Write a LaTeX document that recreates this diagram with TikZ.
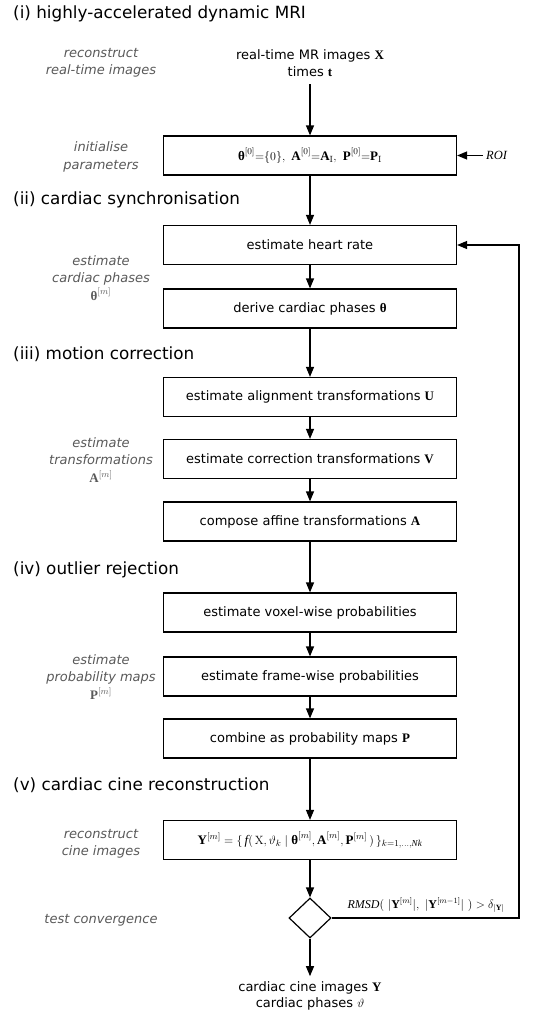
\documentclass[tikz,border=0pt]{standalone}
\usepackage{amsmath}
\usepackage[no-math]{fontspec}
\setmainfont{DejaVu Sans}
\setmathrm{Liberation Serif}
\newfontfamily\tmsfont{Liberation Serif}
\newcommand{\mybf}[1]{\text{\tmsfont\bfseries\upshape #1}}
\newcommand{\myit}[1]{\text{\tmsfont\mdseries\itshape #1}}
\usetikzlibrary{arrows.meta,shapes.geometric}
\begin{document}
\begin{tikzpicture}[x=1pt,y=-1pt,
  box/.style={draw,line width=1.2pt,minimum width=293pt,minimum height=39pt,inner sep=0pt,font=\fontsize{13}{15}\selectfont},
  side/.style={align=center,font=\fontsize{13}{17.5}\selectfont\itshape,text=black!65},
  head/.style={anchor=west,inner sep=0pt,font=\fontsize{16.8}{19}\selectfont},
  arr/.style={line width=1.2pt,-{Triangle[length=10pt,width=8pt]}},
  conn/.style={line width=1.2pt}
]
\useasboundingbox (0,0) rectangle (554,1010);
% headings
\node[head] (h1) at (13,14) {(i) highly-accelerated dynamic MRI};
\node[head] (h2) at (13,200) {(ii) cardiac synchronisation};
\node[head] (h3) at (13,354) {(iii) motion correction};
\node[head] (h4) at (13,570) {(iv) outlier rejection};
\node[head] (h5) at (13,785) {(v) cardiac cine reconstruction};
% side labels
\node[side] (s1) at (101,63) {reconstruct\\real-time images};
\node[side] (s2) at (101,157) {initialise\\parameters};
\node[side] (s3) at (101,278) {estimate\\cardiac phases\\$\mybf{θ}^{[m]}$};
\node[side] (s4) at (101,460) {estimate\\transformations\\$\mybf{A}^{[m]}$};
\node[side] (s5) at (101,677) {estimate\\probability maps\\$\mybf{P}^{[m]}$};
\node[side] (s6) at (101,844) {reconstruct\\cine images};
\node[side] (s7) at (101,920) {test convergence};
% main flow
\node[align=center,font=\fontsize{13}{17}\selectfont] (in) at (310,63) {real-time MR images $\mybf{X}$\\times $\mybf{t}$};
\node[box] (init) at (310,155.5) {$\mybf{θ}^{[0]}{=}\{0\},\ \mybf{A}^{[0]}{=}\mybf{A}_{\mathrm{I}},\ \mybf{P}^{[0]}{=}\mybf{P}_{\mathrm{I}}$};
\node[box] (hr) at (310,245) {estimate heart rate};
\node[box] (dp) at (310,308.5) {derive cardiac phases $\mybf{θ}$};
\node[box] (al) at (310,397) {estimate alignment transformations $\mybf{U}$};
\node[box] (co) at (310,459) {estimate correction transformations $\mybf{V}$};
\node[box] (ca) at (310,521.5) {compose affine transformations $\mybf{A}$};
\node[box] (vx) at (310,612.5) {estimate voxel-wise probabilities};
\node[box] (fr) at (310,676.5) {estimate frame-wise probabilities};
\node[box] (cb) at (310,738.5) {combine as probability maps $\mybf{P}$};
\node[box] (yb) at (310,840) {$\mybf{Y}^{[m]} = \{\, \myit{f}(\,\mathrm{X}, \vartheta_k \mid \mybf{θ}^{[m]}, \mybf{A}^{[m]}, \mybf{P}^{[m]}\,)\,\}_{k=1,\dots,\myit{Nk}}$};
\node[diamond,draw,line width=1.2pt,minimum width=42pt,minimum height=40pt,inner sep=0pt] (dia) at (310,918) {};
\node[align=center,font=\fontsize{13}{16}\selectfont] (out) at (310,996) {cardiac cine images $\mybf{Y}$\\cardiac phases $\vartheta$};
\node[anchor=west,inner sep=3pt,font=\fontsize{12.5}{14}\selectfont] (roi) at (483,155.5) {$\myit{ROI}$};
\node[font=\fontsize{12}{14}\selectfont] (rmsd) at (426,905) {$\myit{RMSD}(\ |\mybf{Y}^{[m]}|,\ |\mybf{Y}^{[m-1]}|\ ) > \delta_{|\mybf{Y}|}$};
\coordinate (lp) at (519,918);
% connectors
\draw[arr,shorten <=4pt] (in) -- (init);
\draw[arr] (roi) -- (init);
\draw[arr] (init) -- (hr);
\draw[arr] (hr) -- (dp);
\draw[arr] (dp) -- (al);
\draw[arr] (al) -- (co);
\draw[arr] (co) -- (ca);
\draw[arr] (ca) -- (vx);
\draw[arr] (vx) -- (fr);
\draw[arr] (fr) -- (cb);
\draw[arr] (cb) -- (yb);
\draw[arr] (yb) -- (dia);
\draw[arr,shorten >=2pt] (dia) -- (out);
\draw[arr] (dia.east) -- (lp) |- (hr.east);
\end{tikzpicture}
\end{document}
